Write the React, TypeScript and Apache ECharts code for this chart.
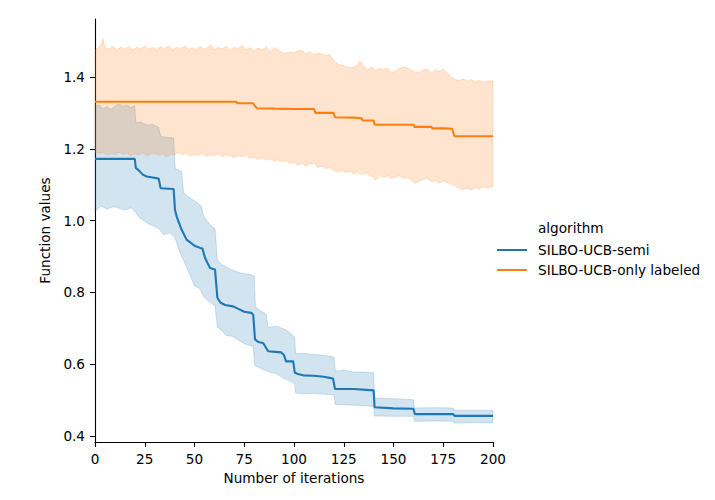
import React, { useEffect, useRef } from "react";
import * as echarts from "echarts";

// ---- data ----
const xTicks = [0, 25, 50, 75, 100, 125, 150, 175, 200];
const yTicks = [0.4, 0.6, 0.8, 1.0, 1.2, 1.4];
const seriesNames = ["SILBO-UCB-semi", "SILBO-UCB-only labeled"];

const semiMean: number[][] = [
  [0, 1.172], [20, 1.172], [20.5, 1.147], [22, 1.14], [24, 1.128], [26, 1.123], [29, 1.12], [32, 1.117],
  [33, 1.09], [39.5, 1.088], [40.2, 1.03], [41, 1.012], [43.5, 0.975], [46, 0.947], [47.7, 0.94], [50, 0.93],
  [52.8, 0.924], [54, 0.922], [55.3, 0.896], [57.8, 0.868], [60.3, 0.864], [61.5, 0.785], [63, 0.772],
  [65.3, 0.765], [69.4, 0.761], [72.8, 0.752], [75, 0.746], [78.6, 0.743], [79.5, 0.738], [80.4, 0.669],
  [82, 0.662], [84.5, 0.659], [86, 0.645], [87, 0.636], [93.6, 0.633], [95, 0.625], [96, 0.608], [99.6, 0.608],
  [100.4, 0.576], [102, 0.573], [104.6, 0.569], [110, 0.568], [115, 0.565], [117.9, 0.562], [119.6, 0.56],
  [120.6, 0.531], [130, 0.531], [140, 0.527], [140.5, 0.48], [150, 0.477], [160, 0.476], [160.7, 0.461],
  [180, 0.461], [180.7, 0.456], [200, 0.456],
];

const semiUpper: number[][] = [
  [0, 1.32], [2, 1.322], [4, 1.312], [6, 1.318], [8, 1.31], [10, 1.318], [12, 1.326], [14, 1.318], [16, 1.322],
  [18, 1.315], [20, 1.32], [20.5, 1.272], [23, 1.275], [26, 1.266], [29, 1.268], [32, 1.26], [33, 1.235],
  [36, 1.232], [39.5, 1.23], [40.3, 1.145], [43.5, 1.137], [44.5, 1.078], [47.5, 1.064], [50, 1.055],
  [53.5, 1.04], [54.5, 1.012], [58.5, 0.984], [60.3, 0.978], [61.5, 0.89], [64, 0.877], [68.5, 0.863],
  [73, 0.854], [78, 0.85], [80, 0.846], [80.6, 0.76], [83.5, 0.747], [86, 0.74], [87, 0.703], [91, 0.706],
  [96, 0.696], [100.3, 0.676], [100.8, 0.63], [105, 0.63], [110, 0.627], [115, 0.625], [120, 0.62],
  [120.8, 0.58], [125, 0.584], [130, 0.578], [135, 0.578], [140, 0.576], [140.5, 0.506], [150, 0.504],
  [160, 0.501], [160.5, 0.478], [170, 0.479], [180, 0.478], [180.5, 0.472], [190, 0.472], [200, 0.472],
];

const semiLower: number[][] = [
  [0, 1.026], [3, 1.04], [6, 1.033], [9, 1.038], [11, 1.037], [14, 1.03], [16, 1.031], [18, 1.036], [20, 1.026],
  [22.5, 1.007], [25, 0.998], [27.5, 0.989], [30, 0.984], [32.5, 0.975], [34.3, 0.961], [37.7, 0.966],
  [40.2, 0.952], [42.7, 0.91], [44.4, 0.891], [46, 0.87], [48, 0.845], [50, 0.818], [52.8, 0.81],
  [54.4, 0.789], [57, 0.776], [59.5, 0.766], [60.3, 0.764], [61.5, 0.703], [64, 0.692], [66, 0.68],
  [69, 0.678], [73, 0.664], [76, 0.655], [79.5, 0.65], [80.3, 0.597], [84.5, 0.585], [88.7, 0.576],
  [91, 0.574], [94.5, 0.562], [97, 0.555], [100.3, 0.546], [100.8, 0.52], [105, 0.518], [110, 0.519],
  [115, 0.516], [120, 0.515], [120.8, 0.488], [130, 0.486], [140, 0.483], [140.5, 0.456], [150, 0.455],
  [160, 0.455], [160.5, 0.441], [170, 0.442], [180, 0.441], [180.5, 0.436], [190, 0.437], [200, 0.437],
];

const onlyMean: number[][] = [
  [0, 1.331], [71, 1.331], [71.5, 1.327], [79.5, 1.327], [80.5, 1.318], [81.5, 1.313], [90, 1.312],
  [100.5, 1.311], [110, 1.311], [110.8, 1.3], [119.8, 1.3], [120.6, 1.288], [130, 1.287], [134, 1.285],
  [134.5, 1.279], [140, 1.279], [140.6, 1.267], [150, 1.267], [160, 1.267], [160.6, 1.261], [169, 1.261],
  [169.5, 1.257], [176, 1.257], [179.5, 1.256], [180.6, 1.235], [200, 1.235],
];

const onlyUpper: number[][] = [
  [0, 1.475], [1, 1.48], [2, 1.482], [3, 1.49], [4, 1.507], [5, 1.482], [7, 1.478], [9, 1.486], [11, 1.476],
  [13, 1.483], [15, 1.478], [17, 1.486], [19, 1.475], [21, 1.483], [23, 1.479], [25, 1.487], [27, 1.477],
  [29, 1.482], [31, 1.476], [33, 1.484], [35, 1.479], [37, 1.488], [39, 1.475], [41, 1.483], [43, 1.478],
  [45, 1.487], [47, 1.477], [49, 1.481], [51, 1.476], [53, 1.485], [55, 1.477], [57, 1.483], [58, 1.49],
  [60, 1.476], [62, 1.482], [64, 1.478], [66, 1.486], [68, 1.474], [70, 1.483], [72, 1.479], [74, 1.488],
  [76, 1.476], [78, 1.482], [80, 1.473], [82, 1.481], [84, 1.476], [86, 1.484], [88, 1.47], [90, 1.482],
  [92, 1.476], [94, 1.468], [96, 1.466], [98, 1.47], [100, 1.467], [102, 1.473], [104, 1.474], [106, 1.465],
  [108, 1.47], [110, 1.462], [113, 1.467], [116, 1.459], [118, 1.463], [120, 1.446], [122, 1.436],
  [125, 1.432], [128, 1.425], [130, 1.428], [132, 1.432], [133, 1.445], [135, 1.43], [137, 1.42],
  [139, 1.428], [141, 1.418], [143, 1.424], [145, 1.42], [147, 1.425], [149, 1.413], [151, 1.416],
  [153, 1.424], [155, 1.427], [157, 1.425], [159, 1.418], [161, 1.414], [163, 1.412], [165, 1.42],
  [167, 1.423], [169, 1.41], [171, 1.42], [173, 1.415], [175, 1.422], [177, 1.41], [179, 1.4], [181, 1.393],
  [183, 1.39], [185, 1.395], [187, 1.388], [189, 1.393], [191, 1.386], [193, 1.39], [195, 1.385],
  [197, 1.388], [200, 1.39],
];

const onlyLower: number[][] = [
  [0, 1.19], [2, 1.187], [4, 1.19], [6, 1.183], [8, 1.187], [10, 1.184], [12, 1.19], [14, 1.185], [16, 1.188],
  [18, 1.181], [20, 1.186], [22, 1.183], [24, 1.189], [26, 1.18], [28, 1.185], [30, 1.188], [32, 1.182],
  [34, 1.186], [36, 1.178], [38, 1.185], [40, 1.183], [42, 1.19], [44, 1.184], [46, 1.187], [48, 1.18],
  [50, 1.185], [52, 1.182], [54, 1.188], [56, 1.179], [58, 1.184], [60, 1.181], [62, 1.186], [64, 1.178],
  [66, 1.183], [68, 1.18], [70, 1.176], [72, 1.182], [74, 1.177], [76, 1.183], [78, 1.172], [80, 1.178],
  [82, 1.17], [84, 1.176], [86, 1.168], [88, 1.172], [90, 1.166], [92, 1.17], [94, 1.163], [96, 1.168],
  [98, 1.16], [100, 1.162], [102, 1.155], [104, 1.16], [106, 1.152], [108, 1.158], [110, 1.16], [112, 1.148],
  [114, 1.152], [116, 1.145], [118, 1.148], [120, 1.14], [122, 1.136], [124, 1.14], [126, 1.134],
  [128, 1.138], [130, 1.13], [132, 1.136], [134, 1.128], [136, 1.133], [138, 1.126], [140, 1.12],
  [141, 1.113], [143, 1.125], [145, 1.12], [147, 1.126], [149, 1.118], [151, 1.122], [153, 1.125],
  [155, 1.117], [157, 1.12], [159, 1.112], [161, 1.104], [163, 1.11], [165, 1.115], [167, 1.118],
  [169, 1.108], [171, 1.112], [173, 1.105], [175, 1.11], [177, 1.106], [179, 1.102], [181, 1.097],
  [183, 1.09], [185, 1.086], [187, 1.09], [189, 1.085], [191, 1.092], [193, 1.088], [195, 1.094],
  [197, 1.09], [200, 1.095],
];

const BLUE = "#1f77b4";
const ORANGE = "#ff7f0e";
const FONT = "DejaVu Sans";
const FS = 13.6;

function bandSeries(upper: number[][], lower: number[][], rgb: string) {
  return {
    type: "custom",
    silent: true,
    z: 1,
    data: [[upper[0][0], upper[0][1]]],
    renderItem: (_params: any, api: any) => {
      const pts = upper
        .map((p) => api.coord(p))
        .concat(lower.slice().reverse().map((p) => api.coord(p)));
      return {
        type: "polygon",
        shape: { points: pts },
        style: {
          fill: `rgba(${rgb},0.2)`,
          stroke: `rgba(${rgb},0.2)`,
          lineWidth: 1,
        },
      };
    },
  };
}

export default function App() {
  const ref = useRef<HTMLDivElement>(null);
  useEffect(() => {
    document.body.style.margin = "0";
    if (!ref.current) return;
    const chart = echarts.init(ref.current, undefined, { renderer: "svg" });
    chart.setOption({
      animation: false,
      textStyle: { fontFamily: FONT, color: "#000" },
      grid: { left: 95, top: 19, width: 398, height: 423, containLabel: false },
      xAxis: {
        type: "value",
        min: 0,
        max: 200,
        interval: 25,
        name: "Number of iterations",
        nameLocation: "middle",
        nameGap: 27,
        nameTextStyle: { fontSize: FS, color: "#000", fontFamily: FONT },
        axisLine: { lineStyle: { color: "#000", width: 1.1 } },
        axisTick: { show: true, length: 5, lineStyle: { color: "#000", width: 1.1 }, customValues: xTicks },
        axisLabel: { fontSize: FS, color: "#000", margin: 10, fontFamily: FONT, customValues: xTicks },
        splitLine: { show: false },
      },
      yAxis: {
        type: "value",
        min: 0.3833,
        max: 1.5616,
        name: "Function values",
        nameLocation: "middle",
        nameGap: 37,
        nameTextStyle: { fontSize: FS, color: "#000", fontFamily: FONT },
        axisLine: { show: true, lineStyle: { color: "#000", width: 1.1 } },
        axisTick: { show: true, length: 5, lineStyle: { color: "#000", width: 1.1 }, customValues: yTicks },
        axisLabel: {
          fontSize: FS,
          color: "#000",
          margin: 10,
          fontFamily: FONT,
          customValues: yTicks,
          formatter: (v: number) => v.toFixed(1),
        },
        splitLine: { show: false },
      },
      legend: {
        data: seriesNames,
        orient: "vertical",
        left: 497,
        top: 243,
        padding: 0,
        itemWidth: 30,
        itemHeight: 14,
        itemGap: 6,
        icon: "path://M0,6 L30,6 L30,8 L0,8 Z",
        textStyle: { fontSize: FS, color: "#000", fontFamily: FONT, padding: [0, 0, 0, 6] },
      },
      graphic: [
        {
          type: "text",
          x: 538,
          y: 228,
          style: {
            text: "algorithm",
            fontSize: FS,
            fontFamily: FONT,
            fill: "#000",
            verticalAlign: "middle",
          },
        },
      ],
      series: [
        bandSeries(semiUpper, semiLower, "31,119,180"),
        bandSeries(onlyUpper, onlyLower, "255,127,14"),
        {
          name: seriesNames[0],
          type: "line",
          data: semiMean,
          showSymbol: false,
          symbol: "none",
          z: 3,
          color: BLUE,
          lineStyle: { color: BLUE, width: 2.1 },
        },
        {
          name: seriesNames[1],
          type: "line",
          data: onlyMean,
          showSymbol: false,
          symbol: "none",
          z: 4,
          color: ORANGE,
          lineStyle: { color: ORANGE, width: 2.1 },
        },
      ],
    });
    return () => chart.dispose();
  }, []);
  return <div ref={ref} style={{ width: 715, height: 500 }} />;
}
